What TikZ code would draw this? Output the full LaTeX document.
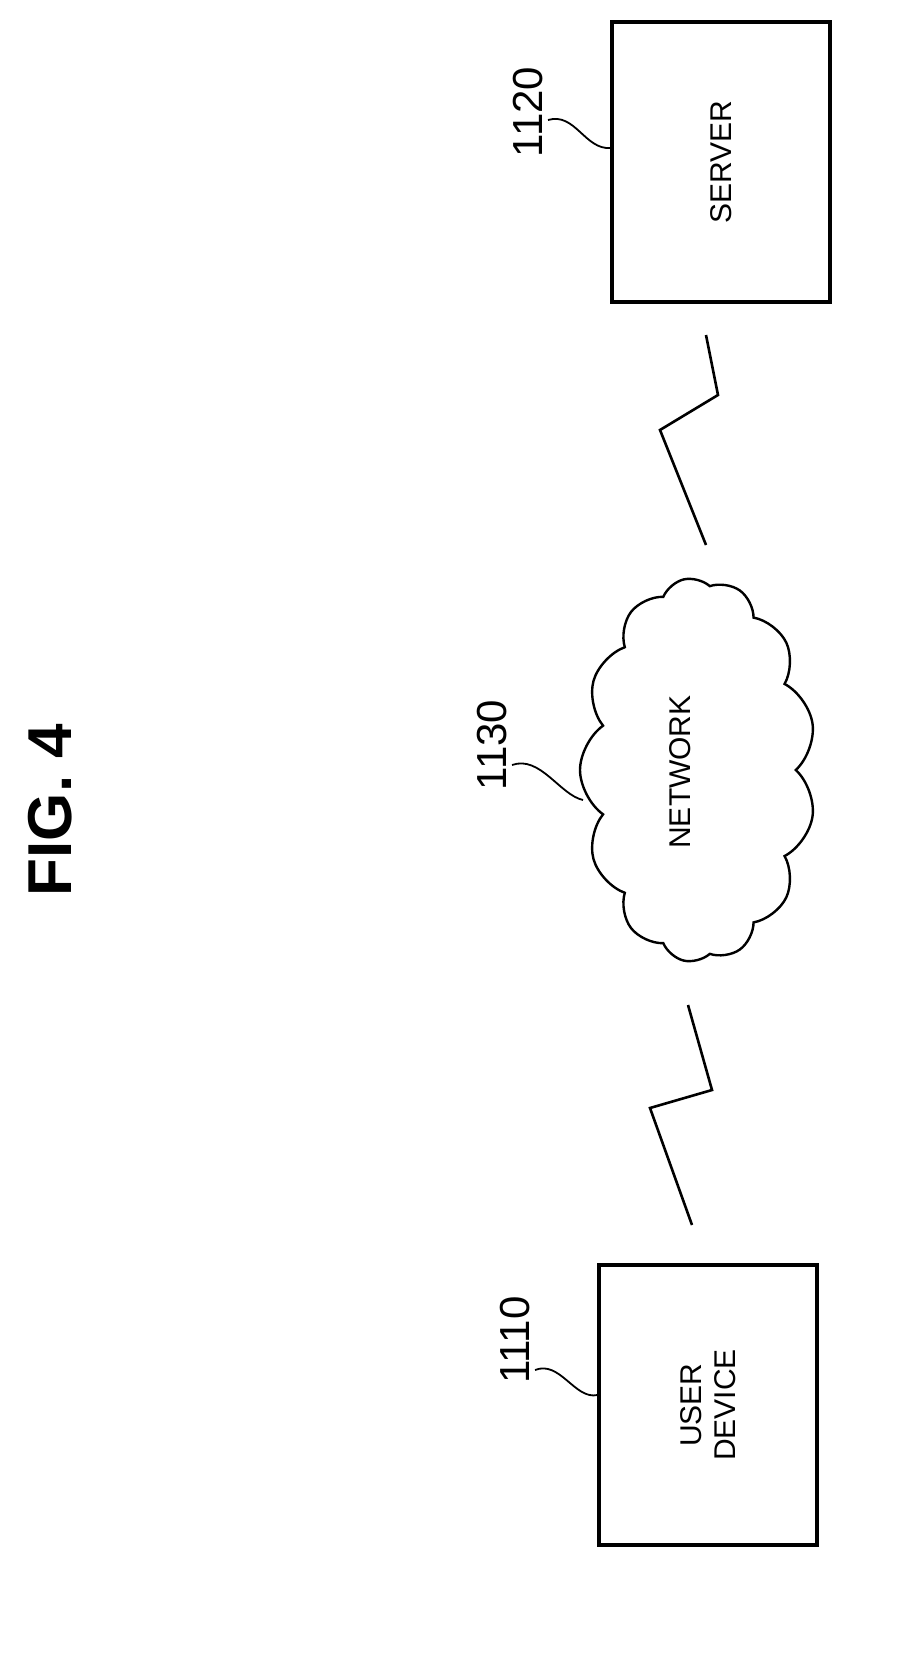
\documentclass[tikz,border=0pt]{standalone}
\usepackage{fontspec}
\setsansfont{Liberation Sans}
\usetikzlibrary{shapes.symbols, positioning}
\tikzset{
  unitbox/.style={draw, line width=1.6pt, minimum width=109pt, minimum height=140pt, inner sep=0pt},
  boxtext/.style={rotate=90, font=\sffamily\fontsize{15}{17}\selectfont, align=center},
  refnum/.style={rotate=90, font=\sffamily\fontsize{21}{23}\selectfont},
  lead/.style={line width=0.9pt},
  wire/.style={line width=1.3pt}
}
\begin{document}
\begin{tikzpicture}[x=0.5pt, y=-0.5pt]
\useasboundingbox (0,0) rectangle (905,1668);
\node[rotate=90, font=\sffamily\bfseries\fontsize{31}{33}\selectfont] (fig) at (50,810) {FIG. 4};
% server
\node[unitbox] (server) at (721,162) {};
\node[boxtext] (servertxt) at (server.center) {SERVER};
\node[refnum] (n1120) at (528,112) {1120};
\draw[lead] (548,120) .. controls (575,112) and (585,150) .. (server.west |- 0,148);
% network
\node[cloud, cloud puffs=13, cloud puff arc=110, draw, line width=1.2pt, rotate=90,
      minimum width=192pt, minimum height=118pt, aspect=1.6] (net) at (698,770) {};
\node[boxtext] (nettxt) at (680,772) {NETWORK};
\node[refnum] (n1130) at (492,745) {1130};
\coordinate (netlead) at (583,800);
\draw[lead] (512,765) .. controls (540,755) and (560,795) .. (netlead);
% user device
\node[unitbox] (user) at (708,1405) {};
\node[boxtext] (usertxt) at (user.center) {USER\\DEVICE};
\node[refnum] (n1110) at (515,1340) {1110};
\draw[lead] (535,1370) .. controls (560,1360) and (575,1400) .. (user.west |- 0,1395);
% links
\coordinate (s1) at (706,335);
\coordinate (s2) at (706,545);
\coordinate (u1) at (688,1005);
\coordinate (u2) at (692,1225);
\draw[wire] (s1) -- (718,395) -- (660,430) -- (s2);
\draw[wire] (u1) -- (712,1090) -- (650,1108) -- (u2);
\end{tikzpicture}
\end{document}
